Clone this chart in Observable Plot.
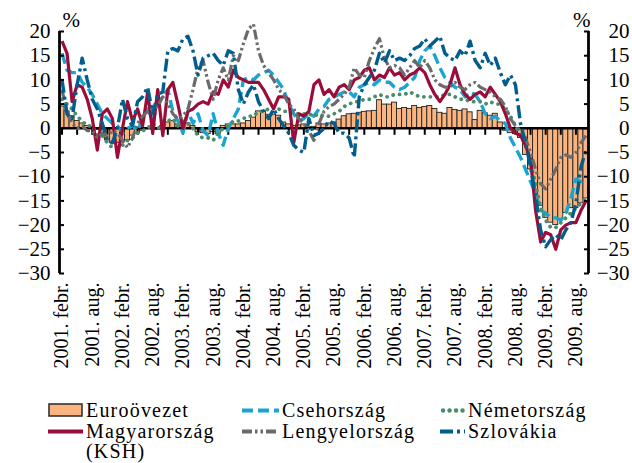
<!DOCTYPE html>
<html><head><meta charset="utf-8">
<script src="https://cdn.jsdelivr.net/npm/d3@7"></script>
<script src="https://cdn.jsdelivr.net/npm/@observablehq/plot@0.6"></script>
<style>
body{margin:0;background:#fff;}
#wrap{position:relative;width:632px;height:463px;font-family:"Liberation Serif",serif;background:#fff;}
#legend{position:absolute;left:0;top:385px;width:632px;height:78px;}
.leg{position:absolute;font-size:20px;letter-spacing:1.2px;line-height:20.5px;color:#000;white-space:nowrap;}
.leg svg{position:absolute;left:0;top:0;}
</style></head>
<body><div id="wrap"><div id="chart"></div><div id="legend"></div></div>
<script>
// Monthly data, 2001. febr. (index 0) ... 2009. okt. (index 104)
const tickLabels = ["2001. febr.","2001. aug.","2002. febr.","2002. aug.","2003. febr.","2003. aug.","2004. febr.","2004. aug.","2005. febr.","2005. aug.","2006. febr.","2006. aug.","2007. febr.","2007. aug.","2008. febr.","2008. aug.","2009. febr.","2009. aug."];
const yTicks = [20,15,10,5,0,-5,-10,-15,-20,-25,-30];

const euro = [4.5,3.5,2.5,1.5,1.0,0.5,0.3,-0.3,-1.0,-2.5,
 -3.0,-3.0,-2.8,-2.5,-1.5,-1.0,-0.5,0.0,0.3,-0.3,
 0.5,1.2,1.5,0.8,1.2,1.0,0.5,-0.8,-1.0,-1.2,
 -0.8,-1.2,0.5,0.8,0.8,0.8,1.0,1.5,2.2,3.5,
 3.5,2.8,2.8,2.6,1.2,0.8,0.5,0.6,0.8,0.2,
 0.3,1.0,0.8,1.0,1.2,1.8,2.5,2.9,3.0,3.2,
 3.4,3.5,3.6,5.8,4.9,4.9,5.3,4.0,4.2,4.0,
 4.6,4.2,4.4,4.6,4.0,3.2,3.0,4.2,3.8,3.6,
 3.9,3.3,1.7,3.6,3.1,2.6,3.0,1.2,-0.5,-1.0,
 -1.2,-2.0,-5.5,-8.5,-13.0,-16.0,-18.5,-19.5,-20.0,-19.0,
 -17.5,-16.5,-16.5,-15.5,-14.5];

const cseh = [15.5,12.0,11.5,11.5,9.5,8.5,7.0,5.0,3.0,2.0,
 1.0,0.5,-1.0,0.0,0.5,-0.5,2.0,4.0,1.5,5.0,
 6.5,8.0,3.5,1.5,-1.0,3.5,1.0,3.0,-0.5,-1.5,
 3.0,-1.0,-3.5,0.0,2.0,4.0,10.0,10.5,10.0,11.0,
 11.5,12.0,11.0,9.5,8.0,5.0,3.0,1.5,2.0,3.0,
 2.5,4.0,4.5,6.0,6.5,7.0,7.5,7.5,6.5,8.5,
 9.0,9.5,9.0,10.0,9.5,9.5,8.5,8.0,8.5,9.5,
 10.5,14.0,16.0,17.0,15.0,12.5,10.5,9.5,8.5,8.0,
 6.5,7.5,7.0,5.5,3.0,2.0,2.5,1.5,1.0,-2.0,
 -4.0,-6.0,-8.5,-11.0,-13.5,-17.0,-17.5,-18.5,-18.5,-19.0,
 -17.5,-14.5,-10.5,-11.0,-10.5];

const nemet = [6.0,5.0,4.0,2.5,1.5,0.5,0.5,-1.5,-1.5,-3.0,
 -4.0,-4.0,-3.5,-2.5,-2.0,-1.0,-0.5,0.0,1.0,0.0,
 0.5,1.5,2.0,0.5,1.5,1.0,0.0,-1.5,-2.0,-2.0,
 -2.5,-1.0,0.0,0.5,1.5,1.5,2.0,2.5,2.5,3.5,
 3.5,4.0,4.5,4.0,3.5,3.5,3.0,3.0,3.0,3.0,
 2.5,3.0,2.5,2.5,3.0,3.5,4.5,5.0,5.5,5.5,
 6.0,6.0,6.5,7.0,6.5,6.5,7.0,7.0,7.0,7.5,
 7.0,6.5,6.5,6.5,6.5,6.5,7.0,7.0,6.5,6.0,
 6.0,5.5,5.5,5.5,5.0,5.5,5.0,5.0,4.0,2.5,
 0.5,-1.5,-3.5,-7.0,-11.5,-16.5,-19.0,-20.5,-20.5,-19.5,
 -18.5,-17.5,-16.5,-15.5,-14.5];

const magyar = [18.0,15.5,5.5,9.0,8.5,6.0,2.0,-4.5,3.0,4.0,
 2.0,-6.0,0.0,5.5,1.5,4.0,0.5,7.5,-1.0,8.0,
 -1.5,8.0,9.5,5.0,0.0,3.5,4.0,5.0,5.5,5.0,
 7.5,7.0,10.0,8.5,12.0,10.5,10.0,9.5,9.5,9.5,
 8.0,6.0,4.0,6.5,6.5,6.0,-3.0,3.0,2.5,3.5,
 9.0,10.0,7.0,8.0,6.5,8.5,9.0,8.0,10.0,10.5,
 12.0,12.5,10.0,11.0,10.5,12.5,11.0,11.5,10.0,11.0,
 11.5,12.5,11.5,9.0,7.0,5.5,7.0,9.0,12.5,9.0,
 7.0,6.0,7.0,7.5,6.5,8.5,7.0,5.5,3.0,0.0,
 -1.0,-1.5,-3.5,-6.5,-17.0,-23.5,-21.5,-22.0,-25.0,-21.0,
 -20.0,-19.5,-19.5,-17.0,-15.0];

const lengyel = [8.0,3.0,1.0,0.0,0.5,-0.5,-0.5,-2.0,-1.0,-1.5,
 -0.5,-1.0,-2.5,-4.0,-2.0,1.0,2.5,3.5,4.0,4.5,
 6.5,5.0,3.0,2.0,2.5,4.0,8.0,12.5,14.0,9.5,
 6.0,10.0,12.5,10.0,15.0,14.0,17.5,20.5,21.5,16.0,
 13.0,11.5,10.0,8.0,7.0,5.0,4.0,2.0,1.0,-0.5,
 -2.5,1.0,3.5,4.5,5.0,6.0,7.0,8.5,12.5,11.0,
 10.5,14.0,16.5,18.5,14.5,12.5,13.0,12.5,11.0,12.5,
 14.0,12.5,14.0,12.5,10.0,9.0,8.5,8.5,9.5,8.5,
 8.0,9.0,9.5,8.5,8.0,7.5,6.5,6.0,4.5,2.0,
 0.5,-0.5,-2.0,-5.0,-8.5,-11.5,-12.5,-10.5,-8.5,-6.0,
 -5.5,-6.0,-5.0,-3.0,-1.5];

const szlovak = [10.0,3.0,2.0,9.0,14.5,10.0,6.0,4.0,1.0,-2.5,
 -3.0,0.0,6.0,2.0,0.5,5.5,6.5,8.5,3.0,7.0,
 7.5,16.0,16.5,16.0,18.5,19.0,16.0,11.0,14.5,15.0,
 15.5,14.0,13.0,16.0,15.5,8.0,5.0,7.5,9.0,5.5,
 3.5,2.0,4.0,2.0,0.5,-1.0,-3.5,-4.5,-5.0,2.0,
 -1.5,-1.0,0.0,1.5,1.0,-1.0,-1.0,-2.0,-6.0,6.5,
 9.0,10.5,12.0,15.5,13.5,16.0,14.0,14.5,14.0,15.0,
 16.5,17.0,18.5,17.0,18.0,19.0,15.5,14.5,14.0,16.0,
 15.0,18.0,14.0,12.5,15.5,13.0,14.5,11.5,9.0,11.0,
 9.0,1.0,-3.0,-8.0,-14.0,-21.0,-24.5,-23.0,-22.0,-23.0,
 -21.0,-19.5,-15.5,-8.0,-4.5];

const barName = "Euroövezet";
const barColor = "#f9b47f";
const lineSeries = [
  {name: "Csehország", values: cseh, color: "#1aa5d0", dash: "11,5", cap: "butt", width: 3.4},
  {name: "Németország", values: nemet, color: "#4a8c6c", dash: "0.1,6.4", cap: "round", width: 3.8},
  {name: "Magyarország", values: magyar, color: "#9b0c39", dash: null, cap: "butt", width: 3.2},
  {name: "Lengyelország", values: lengyel, color: "#6a6a6a", dash: "10,3,2.5,3,2.5,3", cap: "butt", width: 3.2},
  {name: "Szlovákia", values: szlovak, color: "#005d8c", dash: "13,4,3,4", cap: "butt", width: 3.4}
];

const xDomain = [-0.5, euro.length - 0.5];
const labelIdx = tickLabels.map((_, k) => k * 6);
const quarterIdx = d3.range(0, euro.length - 1, 3);
const minus = d => d < 0 ? "\u2212" + Math.abs(d) : String(d);
const barData = euro.map((v, i) => ({i, v}));

const chart = Plot.plot({
  width: 632, height: 385,
  marginLeft: 59, marginRight: 44, marginTop: 31, marginBottom: 112,
  x: {type: "linear", domain: xDomain, label: null},
  y: {domain: [-30, 20], label: null},
  style: {fontFamily: "'Liberation Serif', serif", fontSize: "20px", background: "white", color: "black"},
  marks: [
    Plot.rectY(barData, {x1: d => d.i - 0.5, x2: d => d.i + 0.5, y: "v", fill: barColor, stroke: "#222", strokeWidth: 0.9}),
    Plot.ruleY([0], {stroke: "black", strokeWidth: 2.6}),
    Plot.ruleX(quarterIdx, {y1: 0, y2: 0, insetBottom: -7, stroke: "black", strokeWidth: 2}),
    ...lineSeries.map(s => Plot.line(s.values, {
      x: (d, i) => i, y: d => d, stroke: s.color, strokeWidth: s.width,
      strokeDasharray: s.dash, strokeLinecap: s.cap, strokeLinejoin: "round"
    })),
    Plot.ruleX(xDomain, {y1: -30, y2: 20, stroke: "black", strokeWidth: 2.8}),
    Plot.axisY({anchor: "left", label: null, ticks: yTicks, tickFormat: minus, tickSize: -5, tickPadding: 14, fontSize: 21, strokeWidth: 2}),
    Plot.axisY({anchor: "right", label: null, ticks: yTicks, tickFormat: minus, tickSize: -5, tickPadding: 46, textAnchor: "end", fontSize: 21, strokeWidth: 2}),
    Plot.axisX({anchor: "bottom", label: null, ticks: labelIdx, tickFormat: d => tickLabels[d / 6], tickRotate: -90, tickSize: 0, tickPadding: 9, fontSize: 20}),
    Plot.text(["%"], {text: d => d, frameAnchor: "top-left", textAnchor: "start", lineAnchor: "bottom", dx: 3, dy: -5, fontSize: 21}),
    Plot.text(["%"], {text: d => d, frameAnchor: "top-right", textAnchor: "end", lineAnchor: "bottom", dx: 2, dy: -5, fontSize: 21})
  ]
});
document.getElementById("chart").appendChild(chart);

// Legend (HTML, below the SVG)
const legend = document.getElementById("legend");
const items = [
  {label: barName, col: 0, row: 0, type: "bar"},
  {label: lineSeries[0].name, col: 1, row: 0, s: lineSeries[0]},
  {label: lineSeries[1].name, col: 2, row: 0, s: lineSeries[1]},
  {label: lineSeries[2].name + "<br>(KSH)", col: 0, row: 1, s: lineSeries[2]},
  {label: lineSeries[3].name, col: 1, row: 1, s: lineSeries[3]},
  {label: lineSeries[4].name, col: 2, row: 1, s: lineSeries[4]}
];
const colX = [48, 242, 440];
const swW = [35, 37, 25];
const rowTop = [15, 35.5];
for (const it of items) {
  const div = document.createElement("div");
  div.className = "leg";
  div.style.left = colX[it.col] + "px";
  div.style.top = rowTop[it.row] + "px";
  const w = swW[it.col];
  let sw;
  if (it.type === "bar") {
    sw = `<svg width="${w}" height="20"><rect x="1" y="4" width="${w - 2}" height="12" fill="${barColor}" stroke="#333" stroke-width="1.6"/></svg>`;
  } else {
    const s = it.s;
    sw = `<svg width="${w}" height="20"><line x1="${s.cap === "round" ? 3 : 0}" x2="${w}" y1="10.5" y2="10.5" stroke="${s.color}" stroke-width="${s.width + 0.6}" ${s.dash ? `stroke-dasharray="${s.dash}"` : ""} stroke-linecap="${s.cap}"/></svg>`;
  }
  div.innerHTML = sw + `<span style="position:relative;left:${w + 3}px;">${it.label}</span>`;
  legend.appendChild(div);
}
</script></body></html>
